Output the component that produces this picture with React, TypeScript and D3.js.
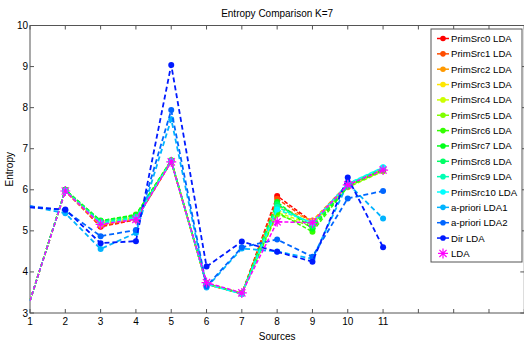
import React from "react";
import * as d3 from "d3";

const sources = [1, 2, 3, 4, 5, 6, 7, 8, 9, 10, 11];
const xTicks = [1, 2, 3, 4, 5, 6, 7, 8, 9, 10, 11, 12, 13, 14, 15];
const xTickLabels = ["1", "2", "3", "4", "5", "6", "7", "8", "9", "10", "11"];
const yTicks = [3, 4, 5, 6, 7, 8, 9, 10];

const primSrc0 = [3.3, 5.97, 5.1, 5.27, 6.68, 3.7, 3.47, 5.85, 5.22, 6.12, 6.5];
const primSrc1 = [3.3, 5.97, 5.12, 5.28, 6.69, 3.7, 3.47, 5.78, 5.2, 6.1, 6.48];
const primSrc2 = [3.3, 5.98, 5.14, 5.3, 6.7, 3.71, 3.47, 5.6, 5.25, 6.14, 6.52];
const primSrc3 = [3.3, 5.98, 5.16, 5.32, 6.7, 3.71, 3.48, 5.5, 5.22, 6.1, 6.5];
const primSrc4 = [3.3, 5.99, 5.18, 5.34, 6.71, 3.71, 3.48, 5.45, 5.15, 6.08, 6.46];
const primSrc5 = [3.3, 6.0, 5.22, 5.38, 6.72, 3.72, 3.48, 5.4, 5.1, 6.06, 6.45];
const primSrc6 = [3.3, 6.0, 5.24, 5.4, 6.72, 3.72, 3.48, 5.45, 4.98, 6.08, 6.48];
const primSrc7 = [3.3, 6.0, 5.25, 5.38, 6.71, 3.72, 3.47, 5.7, 5.05, 6.1, 6.5];
const primSrc8 = [3.3, 5.99, 5.23, 5.35, 6.7, 3.71, 3.47, 5.65, 5.12, 6.12, 6.52];
const primSrc9 = [3.3, 5.98, 5.2, 5.33, 6.7, 3.71, 3.47, 5.58, 5.18, 6.14, 6.54];
const primSrc10 = [3.3, 5.97, 5.18, 5.3, 6.69, 3.7, 3.46, 5.52, 5.2, 6.15, 6.55];
const aprioriLDA1 = [5.6, 5.43, 4.56, 4.95, 7.72, 3.62, 4.57, 4.5, 4.32, 6.15, 5.3];
const aprioriLDA2 = [5.6, 5.5, 4.87, 5.02, 7.94, 3.65, 4.6, 4.79, 4.37, 5.79, 5.97];
const dirLDA = [5.57, 5.52, 4.7, 4.75, 9.04, 4.13, 4.74, 4.49, 4.25, 6.3, 4.6];
const lda = [3.3, 5.97, 5.16, 5.28, 6.68, 3.74, 3.49, 5.22, 5.2, 6.12, 6.48];

const seriesNames = [
  "PrimSrc0 LDA", "PrimSrc1 LDA", "PrimSrc2 LDA", "PrimSrc3 LDA", "PrimSrc4 LDA",
  "PrimSrc5 LDA", "PrimSrc6 LDA", "PrimSrc7 LDA", "PrimSrc8 LDA", "PrimSrc9 LDA",
  "PrimSrc10 LDA", "a-priori LDA1", "a-priori LDA2", "Dir LDA", "LDA",
];
const seriesValues = [
  primSrc0, primSrc1, primSrc2, primSrc3, primSrc4, primSrc5, primSrc6, primSrc7,
  primSrc8, primSrc9, primSrc10, aprioriLDA1, aprioriLDA2, dirLDA, lda,
];

const W = 524;
const H = 342;
const L = 30;
const R = 524.3;
const T = 25.5;
const B = 313;
const FONT = "'Liberation Sans', Arial, sans-serif";

function colorFor(i: number): string {
  if (i === 14) return "#ff00ff";
  return d3.hsl(i * 18, 1, 0.5).formatHex();
}

function star(cx: number, cy: number, r: number): string {
  const d = r * 0.72;
  return `M${cx - r},${cy}L${cx + r},${cy}M${cx},${cy - r}L${cx},${cy + r}` +
    `M${cx - d},${cy - d}L${cx + d},${cy + d}M${cx - d},${cy + d}L${cx + d},${cy - d}`;
}

export default function App() {
  const x = d3.scaleLinear().domain([1, 15]).range([L, R]);
  const y = d3.scaleLinear().domain([3, 10]).range([B, T]);
  const line = d3.line<number>().x((_, i) => x(sources[i])).y((v) => y(v));

  const legX = 431;
  const legY = 29;
  const legW = 91;
  const legH = 233;
  const rowH = 15.35;

  return (
    <svg width={W} height={H} style={{ position: "fixed", left: 0, top: 0, background: "#fff" }}
      fontFamily={FONT}>
      <rect x={0} y={0} width={W} height={H} fill="#fff" />
      {/* axes box */}
      <rect x={L} y={T} width={R - L} height={B - T} fill="none" stroke="#555" strokeWidth={1} />
      {xTicks.map((t) => (
        <g key={"xt" + t}>
          <line x1={x(t)} x2={x(t)} y1={B} y2={B - 4} stroke="#555" />
          <line x1={x(t)} x2={x(t)} y1={T} y2={T + 4} stroke="#555" />
        </g>
      ))}
      {yTicks.map((t) => (
        <g key={"yt" + t}>
          <line x1={L} x2={L + 4} y1={y(t)} y2={y(t)} stroke="#555" />
          <line x1={R} x2={R - 4} y1={y(t)} y2={y(t)} stroke="#555" />
          <text x={L - 2} y={y(t) + 3.5} fontSize={10} textAnchor="end" fill="#000">{t}</text>
        </g>
      ))}
      {xTickLabels.map((lab, i) => (
        <text key={"xl" + i} x={x(i + 1)} y={325} fontSize={10} textAnchor="middle" fill="#000">{lab}</text>
      ))}
      <text x={(L + R) / 2} y={340} fontSize={10} textAnchor="middle" fill="#000">Sources</text>
      <text transform={`translate(13,${(T + B) / 2}) rotate(-90)`} fontSize={10} textAnchor="middle" fill="#000">Entropy</text>
      <text x={(L + R) / 2} y={17} fontSize={10} textAnchor="middle" fill="#000">Entropy Comparison K=7</text>

      {/* series */}
      {seriesValues.map((vals, si) => {
        const c = colorFor(si);
        const isBlue = si >= 11 && si <= 13;
        return (
          <g key={"s" + si}>
            <path d={line(vals) || ""} fill="none" stroke={c} strokeWidth={isBlue ? 1.8 : 1.5}
              strokeDasharray={isBlue ? "5,3" : "4,2"} />
            {vals.map((v, i) =>
              i === 0 ? null : si === 14 ? (
                <path key={i} d={star(x(sources[i]), y(v), 5)} stroke={c} strokeWidth={1.2} fill="none" />
              ) : (
                <circle key={i} cx={x(sources[i])} cy={y(v)} r={3} fill={c} />
              )
            )}
          </g>
        );
      })}

      {/* legend */}
      <rect x={legX} y={legY} width={legW} height={legH} fill="#fff" stroke="#555" strokeWidth={1} />
      {seriesNames.map((name, i) => {
        const cy = 38.5 + i * rowH;
        const c = colorFor(i);
        return (
          <g key={"lg" + i}>
            {i < 14 ? (
              <g>
                <line x1={437} x2={449} y1={cy} y2={cy} stroke={c} strokeWidth={1.5} />
                <circle cx={443} cy={cy} r={2.8} fill={c} />
              </g>
            ) : (
              <path d={star(443, cy, 5)} stroke={c} strokeWidth={1.2} fill="none" />
            )}
            <text x={451} y={cy + 3.5} fontSize={9.6} fill="#000">{name}</text>
          </g>
        );
      })}
    </svg>
  );
}
